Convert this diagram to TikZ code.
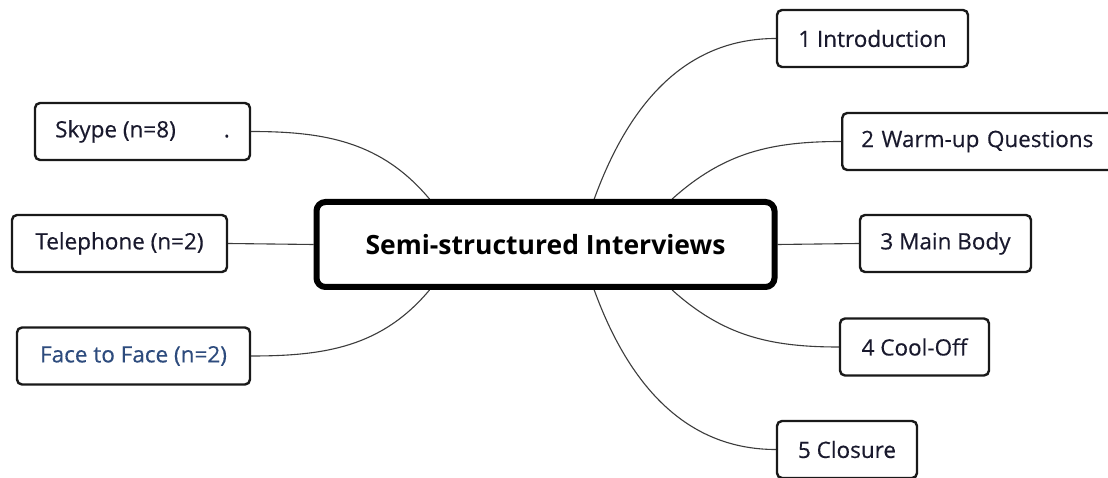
\documentclass[tikz,border=0pt]{standalone}
\usepackage{fontspec}
\setmainfont{Open Sans}[FakeBold=0.4]
\newfontfamily\hubfont{Open Sans}
\usetikzlibrary{calc,backgrounds}
\definecolor{txt}{RGB}{25,25,45}
\definecolor{facec}{RGB}{45,75,125}
\definecolor{edgec}{RGB}{60,60,60}
\begin{document}
\begin{tikzpicture}[x=1pt,y=-1pt,
  leaf/.style={draw=black!90, line width=2.4pt, rounded corners=5pt, fill=white,
    text=txt, font=\fontsize{22.5}{27}\selectfont, minimum height=57pt, inner sep=0pt},
  hub/.style={draw=black, line width=6pt, rounded corners=9pt, fill=white,
    minimum width=458pt, minimum height=85pt, font=\hubfont\bfseries\fontsize{26.5}{32}\selectfont, text=black},
  link/.style={draw=edgec, line width=1.1pt}]
\useasboundingbox (0,0) rectangle (1108,478);
\clip (0,0) rectangle (1108,478);

\node[hub] (c) at (545.5,244.5) {Semi-structured Interviews};
\coordinate (ctA) at ($(c.north west)!0.25!(c.north east)$);
\coordinate (ctB) at ($(c.north west)!0.605!(c.north east)$);
\coordinate (ctC) at ($(c.north west)!0.773!(c.north east)$);
\coordinate (cbA) at ($(c.south west)!0.25!(c.south east)$);
\coordinate (cbB) at ($(c.south west)!0.605!(c.south east)$);
\coordinate (cbC) at ($(c.south west)!0.773!(c.south east)$);

\node[leaf, minimum width=215pt] (skype) at (142.5,131.5) {Skype (n=8)\hspace{48pt}.};
\node[leaf, minimum width=215pt] (tel) at (119.5,243.5) {Telephone (n=2)};
\node[leaf, minimum width=233pt, text=facec] (face) at (133.5,356) {Face to Face (n=2)};
\node[leaf, minimum width=191pt] (intro) at (872.5,38.5) {1 Introduction};
\node[leaf, anchor=west, text width=250pt, align=left, inner xsep=19pt] (warm) at (841,141.5) {2 Warm-up Questions};
\node[leaf, minimum width=171pt] (main) at (945.5,243.5) {3 Main Body};
\node[leaf, minimum width=149pt] (cool) at (914.5,347) {4 Cool-Off};
\node[leaf, minimum width=140pt] (clos) at (847,449.5) {5 Closure};

\begin{scope}[on background layer]
\fill[white] (0,0) rectangle (1108,478);
\draw[link] (skype.east) to[out=0,in=130] (ctA);
\draw[link] (tel.east) -- (c.west);
\draw[link] (face.east) to[out=0,in=-130] (cbA);
\draw[link] (ctB) to[out=70,in=180] (intro.west);
\draw[link] (ctC) to[out=42,in=180] (warm.west);
\draw[link] (c.east) -- (main.west);
\draw[link] (cbC) to[out=-42,in=180] (cool.west);
\draw[link] (cbB) to[out=-70,in=180] (clos.west);
\end{scope}
\end{tikzpicture}
\end{document}
